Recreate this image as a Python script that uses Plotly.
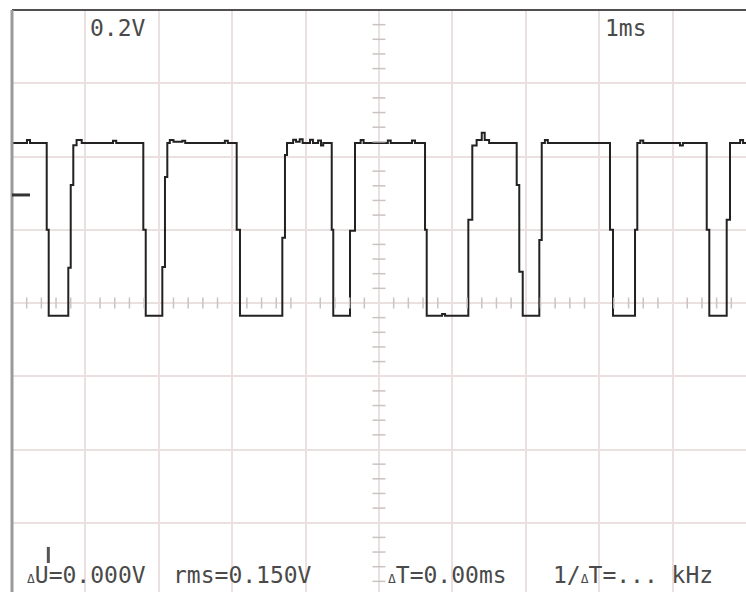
import plotly.graph_objects as go

# ---- waveform data: time (ms) and level (V), step-wise (hv) ----
t_ms = [0.000, 0.204, 0.245, 0.473, 0.500, 0.767, 0.800, 0.835, 0.880, 0.950,
        1.376, 1.420, 1.789, 1.822, 2.048, 2.084, 2.116, 2.150, 2.200, 2.320,
        2.360, 2.900, 2.940, 3.061, 3.106, 3.683, 3.719, 3.747, 3.830, 3.870,
        3.920, 3.960, 4.060, 4.100, 4.170, 4.210, 4.240, 4.356, 4.377, 4.605,
        4.673, 4.750, 4.790, 5.120, 5.160, 5.450, 5.490, 5.627, 5.650, 5.860,
        5.900, 6.217, 6.271, 6.330, 6.400, 6.440, 6.500, 6.876, 6.911, 6.958,
        7.184, 7.217, 7.260, 7.300, 8.147, 8.188, 8.488, 8.519, 8.560, 8.600,
        9.100, 9.140, 9.465, 9.500, 9.737, 9.782, 9.920, 9.960, 10.000]
v_volt = [0.437, 0.445, 0.437, 0.200, -0.035, 0.096, 0.322, 0.431, 0.445, 0.437,
          0.443, 0.437, 0.200, -0.035, 0.098, 0.344, 0.437, 0.445, 0.440, 0.443,
          0.437, 0.443, 0.437, 0.200, -0.035, 0.178, 0.404, 0.437, 0.446, 0.440,
          0.447, 0.437, 0.446, 0.437, 0.444, 0.430, 0.437, 0.200, -0.035, 0.197,
          0.437, 0.445, 0.437, 0.444, 0.437, 0.444, 0.437, 0.200, -0.035, -0.030,
          -0.035, 0.227, 0.430, 0.445, 0.465, 0.445, 0.437, 0.322, 0.085, -0.035,
          0.172, 0.437, 0.445, 0.437, 0.200, -0.035, 0.200, 0.437, 0.444, 0.437,
          0.430, 0.437, 0.200, -0.035, 0.227, 0.437, 0.445, 0.437, 0.437]

# ---- scope settings ----
volts_per_div = 0.2
ms_per_div = 1.0
x_divs = 10
y_divs = 8
minor_per_div = 5
ground_level_v = [0.295]          # channel ground marker level
cursor_t = [0.495]                # cursor marker time
cursor_v = [-0.666, -0.710]

label_volt = "0.2V"
label_time = "1ms"
readouts = ["<span style='font-size:13px'>Δ</span>U=0.000V", "rms=0.150V",
            "<span style='font-size:13px'>Δ</span>T=0.00ms",
            "1/<span style='font-size:13px'>Δ</span>T=... kHz"]

# ---- geometry (pixels) ----
W, H = 746, 592
L, T = 12, 10
plot_w = W - L
plot_h = H - T
div_px_y = 73.25
y_top = y_divs / 2 * volts_per_div
y_bottom = y_top - plot_h / div_px_y * volts_per_div

def px_to_paper(px, py):
    return (px - L) / plot_w, (H - py) / plot_h

fig = go.Figure()
fig.add_trace(go.Scatter(x=t_ms, y=v_volt, mode="lines",
                         line=dict(color="#222222", width=2, shape="hv"),
                         hoverinfo="skip"))

grid_col = "rgb(234,224,224)"
fig.update_xaxes(range=[0, x_divs * ms_per_div], dtick=ms_per_div, tick0=0,
                 showgrid=True, gridcolor=grid_col, gridwidth=2,
                 showticklabels=False, zeroline=False, showline=False, ticks="",
                 fixedrange=True)
fig.update_yaxes(range=[y_bottom, y_top], dtick=volts_per_div, tick0=0,
                 showgrid=True, gridcolor=grid_col, gridwidth=2,
                 showticklabels=False, zeroline=False, showline=False, ticks="",
                 fixedrange=True)

shapes = []
tick_col = "#cbc2c2"
cx = x_divs * ms_per_div / 2
half_tx = 6.5 / 73.4 * ms_per_div
half_ty = 5.5 / div_px_y * volts_per_div
for k in range(x_divs * minor_per_div + 1):
    if k % minor_per_div == 0:
        continue
    tx = k * ms_per_div / minor_per_div
    shapes.append(dict(type="line", xref="x", yref="y", x0=tx, x1=tx,
                       y0=-half_ty, y1=half_ty, line=dict(color=tick_col, width=1.5)))
for k in range(-(y_divs // 2) * minor_per_div, (y_divs // 2) * minor_per_div + 1):
    if k % minor_per_div == 0:
        continue
    ty = k * volts_per_div / minor_per_div
    shapes.append(dict(type="line", xref="x", yref="y", x0=cx - half_tx, x1=cx + half_tx,
                       y0=ty, y1=ty, line=dict(color=tick_col, width=1.5)))

# borders
shapes.append(dict(type="line", xref="paper", yref="paper", x0=0, x1=1, y0=1, y1=1,
                   line=dict(color="#505050", width=2)))
shapes.append(dict(type="line", xref="paper", yref="paper", x0=0, x1=0, y0=0, y1=1,
                   line=dict(color="#9a9a9a", width=3)))
# ground marker
shapes.append(dict(type="line", xref="x", yref="y", x0=0, x1=0.245,
                   y0=ground_level_v[0], y1=ground_level_v[0],
                   line=dict(color="#333333", width=3)))
# cursor marker
shapes.append(dict(type="line", xref="x", yref="y", x0=cursor_t[0], x1=cursor_t[0],
                   y0=cursor_v[0], y1=cursor_v[1], line=dict(color="#555555", width=3)))

fnt = dict(family="DejaVu Sans Mono", size=23, color="#4a4a4a")
ann = []
def add_text(txt, px, py):
    xp, yp = px_to_paper(px, py)
    ann.append(dict(text=txt, x=xp, y=yp, xref="paper", yref="paper",
                    xanchor="left", yanchor="middle", showarrow=False, font=fnt))

add_text(label_volt, 88, 28)
add_text(label_time, 603, 28)
add_text(readouts[0], 25, 575)
add_text(readouts[1], 171, 575)
add_text(readouts[2], 386, 575)
add_text(readouts[3], 551, 575)

fig.update_layout(width=W, height=H, autosize=False,
                  margin=dict(l=L, r=0, t=T, b=0, pad=0),
                  paper_bgcolor="white", plot_bgcolor="white",
                  showlegend=False, shapes=shapes, annotations=ann)

fig.write_html("out.html", config={"displayModeBar": False},
               post_script="document.body.style.margin='0px';"
                           "document.body.style.overflow='hidden';")
